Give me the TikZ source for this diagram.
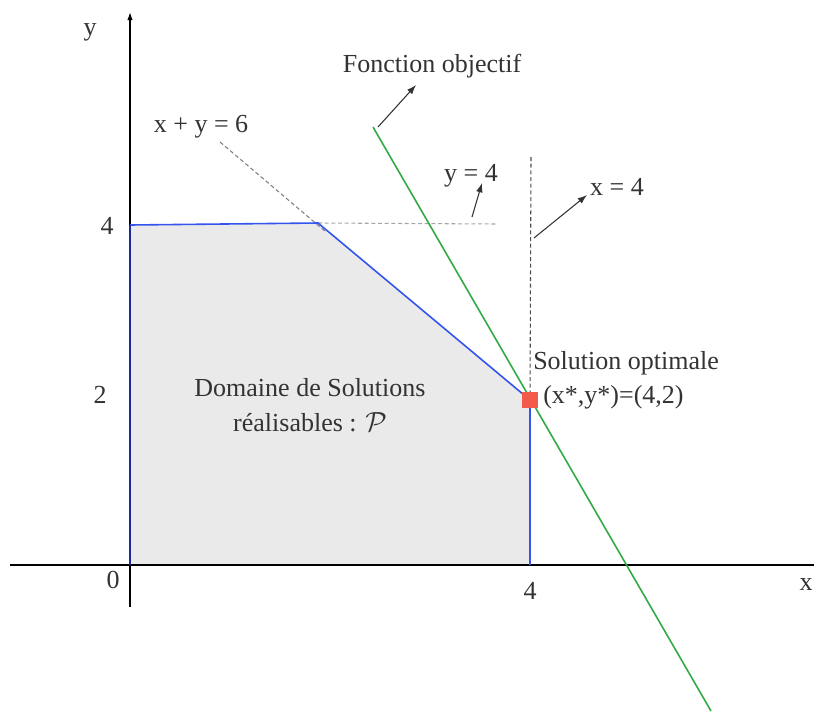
\documentclass[tikz,border=0pt]{standalone}
\usepackage{fontspec}
\setmainfont{Liberation Serif}
\usetikzlibrary{arrows.meta}
\definecolor{txt}{HTML}{333333}
\definecolor{dom}{HTML}{EAEAEA}
\definecolor{bord}{HTML}{3355EE}
\definecolor{bordd}{HTML}{1A2A9A}
\definecolor{obj}{HTML}{33AA44}
\definecolor{opt}{HTML}{F25A4A}
\begin{document}
\begin{tikzpicture}[x=0.75pt,y=-0.75pt,
  lbl/.style={text=txt,font=\fontsize{19.5}{22}\selectfont,inner sep=0pt},
  axis/.style={black,line width=0.9pt},
  guide/.style={gray,dashed,line width=0.8pt,dash pattern=on 3pt off 2pt},
  pointer/.style={black!80,line width=0.8pt,-{Latex[length=7pt,width=5pt]}},
  edge/.style={bord,line width=1.2pt}]
\useasboundingbox (0,0) rectangle (814,711);
% coordinates
\coordinate (O) at (130,565);
\coordinate (A) at (130,225);
\coordinate (B) at (318,223);
\coordinate (C) at (530,400);
\coordinate (D) at (530,565);
% domain
\fill[dom] (O) -- (A) -- (B) -- (C) -- (D) -- cycle;
% guides
\coordinate (g6a) at (220,142);
\coordinate (g6b) at (326,232);
\draw[guide] (g6a) -- (g6b);
\coordinate (gy4b) at (497,224);
\draw[guide,gray!70] (B) -- (gy4b);
\coordinate (gx4a) at (531,157);
\draw[guide,black!70] (gx4a) -- (C);
% axes
\coordinate (xl) at (10,565);
\coordinate (xr) at (814,565);
\coordinate (yb) at (130,607);
\coordinate (yt) at (130,12);
\draw[axis] (xl) -- (xr);
\draw[axis,-{Latex[length=6pt,width=4pt]}] (yb) -- (yt);
% domain edges
\draw[edge] (A) -- (B) -- (C) -- (D);
\draw[edge,bordd] (O) -- (A);
% objective
\coordinate (f1) at (373,127);
\coordinate (f2) at (711,711);
\draw[obj,line width=1.2pt] (f1) -- (f2);
% optimum
\node[fill=opt,minimum size=11.5pt,inner sep=0pt] (opt) at (C) {};
% labels
\node[lbl] (ly) at (90,32) {y};
\node[lbl] (lx) at (806,585) {x};
\node[lbl] (l0) at (113,580) {0};
\node[lbl] (lx4) at (530,591) {4};
\node[lbl] (ly4) at (107,226) {4};
\node[lbl] (ly2) at (100,395) {2};
\node[lbl] (lfo) at (432,66) {Fonction objectif};
\node[lbl] (l6) at (201,127) {x + y = 6};
\node[lbl] (lyy4) at (471,176) {y = 4};
\node[lbl] (lxx4) at (617,187) {x = 4};
\node[lbl,anchor=west] (lso) at (533,363) {Solution optimale};
\node[lbl,anchor=west] (lxy) at (543,397) {(x*,y*)=(4,2)};
\node[lbl,align=center] (ldom) at (310,405) {Domaine de Solutions\\[4pt]réalisables : $\mathcal{P}$};
% pointers
\coordinate (p1a) at (378,127);
\coordinate (p1b) at (416,85);
\draw[pointer] (p1a) -- (p1b);
\coordinate (p2a) at (472,217);
\coordinate (p2b) at (482,183);
\draw[pointer] (p2a) -- (p2b);
\coordinate (p3a) at (534,238);
\coordinate (p3b) at (587,195);
\draw[pointer] (p3a) -- (p3b);
\end{tikzpicture}
\end{document}
